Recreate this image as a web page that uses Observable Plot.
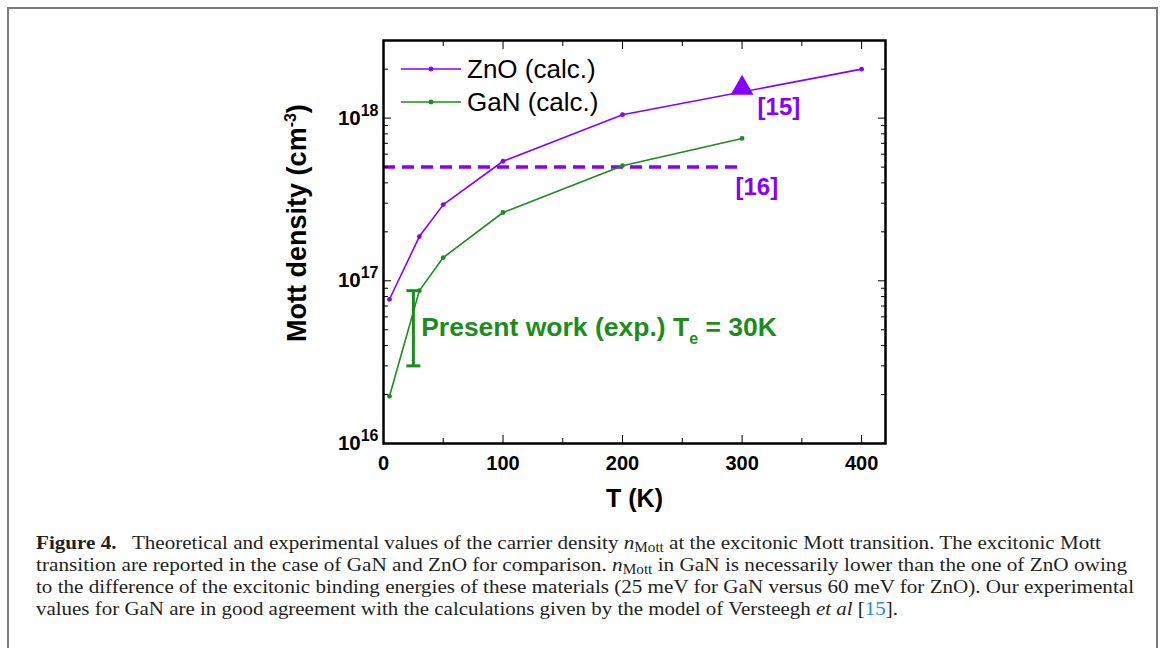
<!DOCTYPE html>
<html><head><meta charset="utf-8">
<script src="https://cdn.jsdelivr.net/npm/d3@7"></script>
<script src="https://cdn.jsdelivr.net/npm/@observablehq/plot@0.6"></script>
<style>
html,body{margin:0;padding:0;background:#fff}
body{width:1165px;height:648px;overflow:hidden;position:relative;font-family:"Liberation Sans",Arial,sans-serif}
#frame{position:absolute;left:7px;top:7px;width:1151px;height:700px;border:2px solid #7a7a7a;box-sizing:border-box}
#chart{position:absolute;left:0;top:0}
#caption{position:absolute;left:36px;top:532px;font-family:"Liberation Serif","Times New Roman",serif;font-size:19px;line-height:22px;color:#231f20;white-space:nowrap}
#caption .ln{transform-origin:0 50%;width:max-content}
#caption sub{font-size:0.72em;vertical-align:-0.25em;line-height:0}
#caption .ref{color:#1a8fd8}
</style>
</head><body>
<div id="frame"></div>
<div id="chart"></div>
<div id="caption">
<div class="ln" data-w="1065"><b>Figure 4.</b>&nbsp;&nbsp; Theoretical and experimental values of the carrier density <i>n</i><sub>Mott</sub> at the excitonic Mott transition. The excitonic Mott</div>
<div class="ln" data-w="1091">transition are reported in the case of GaN and ZnO for comparison. <i>n</i><sub>Mott</sub> in GaN is necessarily lower than the one of ZnO owing</div>
<div class="ln" data-w="1098">to the difference of the excitonic binding energies of these materials (25 meV for GaN versus 60 meV for ZnO). Our experimental</div>
<div class="ln" data-w="862">values for GaN are in good agreement with the calculations given by the model of Versteegh <i>et al</i> [<span class="ref">15</span>].</div>
</div>
<script>
// ---- data ----
const tZnO = [5, 30, 50, 100, 200, 400];
const nZnO = [7.7e16, 1.87e17, 2.94e17, 5.43e17, 1.05e18, 2.0e18];
const tGaN = [5, 30, 50, 100, 200, 300];
const nGaN = [1.95e16, 8.7e16, 1.39e17, 2.63e17, 5.1e17, 7.5e17];
const ref15 = [{T: 300, n: 1.53e18}];           // triangle, Versteegh et al [15]
const ref16 = [{T0: 0, T1: 300, n: 5e17}];      // dashed level [16]
const expBar = [{T: 25, lo: 3e16, hi: 8.7e16}]; // present work error bar
const xTicks = [0, 100, 200, 300, 400];
const xMinor = [50, 150, 250, 350];
const yMajor = [1e16, 1e17, 1e18];
const yMinor = [2,3,4,5,6,7,8,9].flatMap(m => [m*1e16, m*1e17]).concat([2e18, 3e18]);
const refLabels = [
  {T: 313, n: 1.17e18, text: "[15]"},
  {T: 294.5, n: 3.75e17, text: "[16]"}
];
const expLabel = [{T: 31.5, n: 5.13e16, text: "Present work (exp.) T_e = 30K"}];
const legendItems = ["ZnO (calc.)", "GaN (calc.)"];

const purple = "#8400ff";
const green = "#1c8c1c";

const zno = tZnO.map((T, i) => ({T, n: nZnO[i]}));
const gan = tGaN.map((T, i) => ({T, n: nGaN[i]}));

const capSymbol = {draw(ctx, size) { const r = Math.sqrt(size / Math.PI); ctx.moveTo(-r, 0); ctx.lineTo(r, 0); }};

const plot = Plot.plot({
  width: 1165, height: 520,
  marginLeft: 383, marginRight: 280, marginTop: 40, marginBottom: 77,
  x: {domain: [0, 420]},
  y: {type: "log", domain: [1e16, 3e18]},
  style: {fontFamily: "'Liberation Sans', Arial, sans-serif", fontWeight: "bold", fontSize: "20px", color: "#000", background: "transparent", overflow: "visible"},
  marks: [
    Plot.ruleY(ref16, {x1: "T0", x2: "T1", y: "n", stroke: purple, strokeWidth: 3.5, strokeDasharray: "12,7"}),
    Plot.line(zno, {x: "T", y: "n", stroke: purple, strokeWidth: 1.6}),
    Plot.dot(zno, {x: "T", y: "n", fill: purple, r: 2.4}),
    Plot.line(gan, {x: "T", y: "n", stroke: green, strokeWidth: 1.6}),
    Plot.dot(gan, {x: "T", y: "n", fill: green, r: 2.4}),
    Plot.dot(ref15, {x: "T", y: "n", symbol: "triangle", r: 8.5, fill: purple, stroke: "none"}),
    Plot.ruleX(expBar, {x: "T", y1: "lo", y2: "hi", stroke: green, strokeWidth: 3}),
    Plot.dot(expBar, {x: "T", y: "lo", symbol: capSymbol, r: 7, stroke: green, strokeWidth: 3, fill: "none"}),
    Plot.dot(expBar, {x: "T", y: "hi", symbol: capSymbol, r: 7, stroke: green, strokeWidth: 3, fill: "none"}),
    Plot.text(refLabels, {x: "T", y: "n", text: "text", fill: purple, textAnchor: "start", fontSize: 24, fontWeight: "bold"}),
    Plot.text(expLabel, {x: "T", y: "n", text: "text", fill: green, textAnchor: "start", fontSize: 26.5, fontWeight: "bold"}),
    // axes: inward ticks
    Plot.axisX({anchor: "bottom", ticks: xTicks, tickSize: -8, tickPadding: 20, tickFormat: d => String(d), fontSize: 20, label: null}),
    Plot.axisX({anchor: "bottom", ticks: xMinor, tickSize: -5, tickFormat: () => "", label: null}),
    Plot.axisX({anchor: "top", ticks: xTicks, tickSize: -8, tickFormat: () => "", label: null}),
    Plot.axisX({anchor: "top", ticks: xMinor, tickSize: -5, tickFormat: () => "", label: null}),
    Plot.axisY({anchor: "left", ticks: yMajor, tickSize: -8, tickPadding: 13, tickFormat: d => "10^" + Math.round(Math.log10(d)), fontSize: 20.5, label: null}),
    Plot.axisY({anchor: "left", ticks: yMinor, tickSize: -5, tickFormat: () => "", label: null}),
    Plot.axisY({anchor: "right", ticks: yMajor, tickSize: -8, tickFormat: () => "", label: null}),
    Plot.axisY({anchor: "right", ticks: yMinor, tickSize: -5, tickFormat: () => "", label: null}),
    Plot.frame({stroke: "#000", strokeWidth: 2.5}),
    Plot.text(["T (K)"], {frameAnchor: "bottom", text: d => d, dy: 55, textAnchor: "middle", lineAnchor: "middle", fontSize: 25, fontWeight: "bold"}),
    Plot.text(["Mott density (cm^-3)"], {frameAnchor: "left", text: d => d, dx: -86, dy: -19, rotate: -90, textAnchor: "middle", lineAnchor: "middle", fontSize: 27, fontWeight: "bold"})
  ]
});
document.getElementById("chart").appendChild(plot);

const svg = d3.select(plot);
svg.selectAll("text").each(function() {
  const t = d3.select(this); const s = t.text();
  if (s.startsWith("10^")) {
    const [b, e] = s.split("^");
    t.text(b); t.append("tspan").attr("dy", "-9").attr("font-size", "16").text(e);
  } else if (s.startsWith("Mott")) {
    const [b, rest] = s.split("^"); const e = rest.replace(")", "");
    t.text(b); t.append("tspan").attr("dy", "-10").attr("font-size", "16").text(e);
    t.append("tspan").attr("dy", "10").text(")");
  } else if (s.includes("_")) {
    const i = s.indexOf("_");
    const pre = s.slice(0, i), sub = s[i+1], post = s.slice(i+2);
    t.text(pre); t.append("tspan").attr("dy", "8").attr("font-size", "16").text(sub);
    t.append("tspan").attr("dy", "-8").text(post);
  }
});
// legend (top-left inside the frame)
const lg = svg.append("g").attr("font-weight", "normal").attr("font-size", 26).attr("text-anchor", "start");
legendItems.forEach((name, i) => {
  const c = i === 0 ? purple : green;
  const y = 69 + i * 33;
  lg.append("line").attr("x1", 401).attr("x2", 461).attr("y1", y).attr("y2", y).attr("stroke", c).attr("stroke-width", 1.6);
  lg.append("circle").attr("cx", 431).attr("cy", y).attr("r", 2.4).attr("fill", c);
  lg.append("text").attr("x", 467).attr("y", y).attr("dy", "0.35em").attr("fill", "#000").text(name);
});
// caption lines: fit each line to the reference width
document.querySelectorAll("#caption .ln").forEach(el => {
  const w = el.getBoundingClientRect().width;
  el.style.transform = `scaleX(${(+el.dataset.w / w).toFixed(4)})`;
});
</script>
</body></html>
